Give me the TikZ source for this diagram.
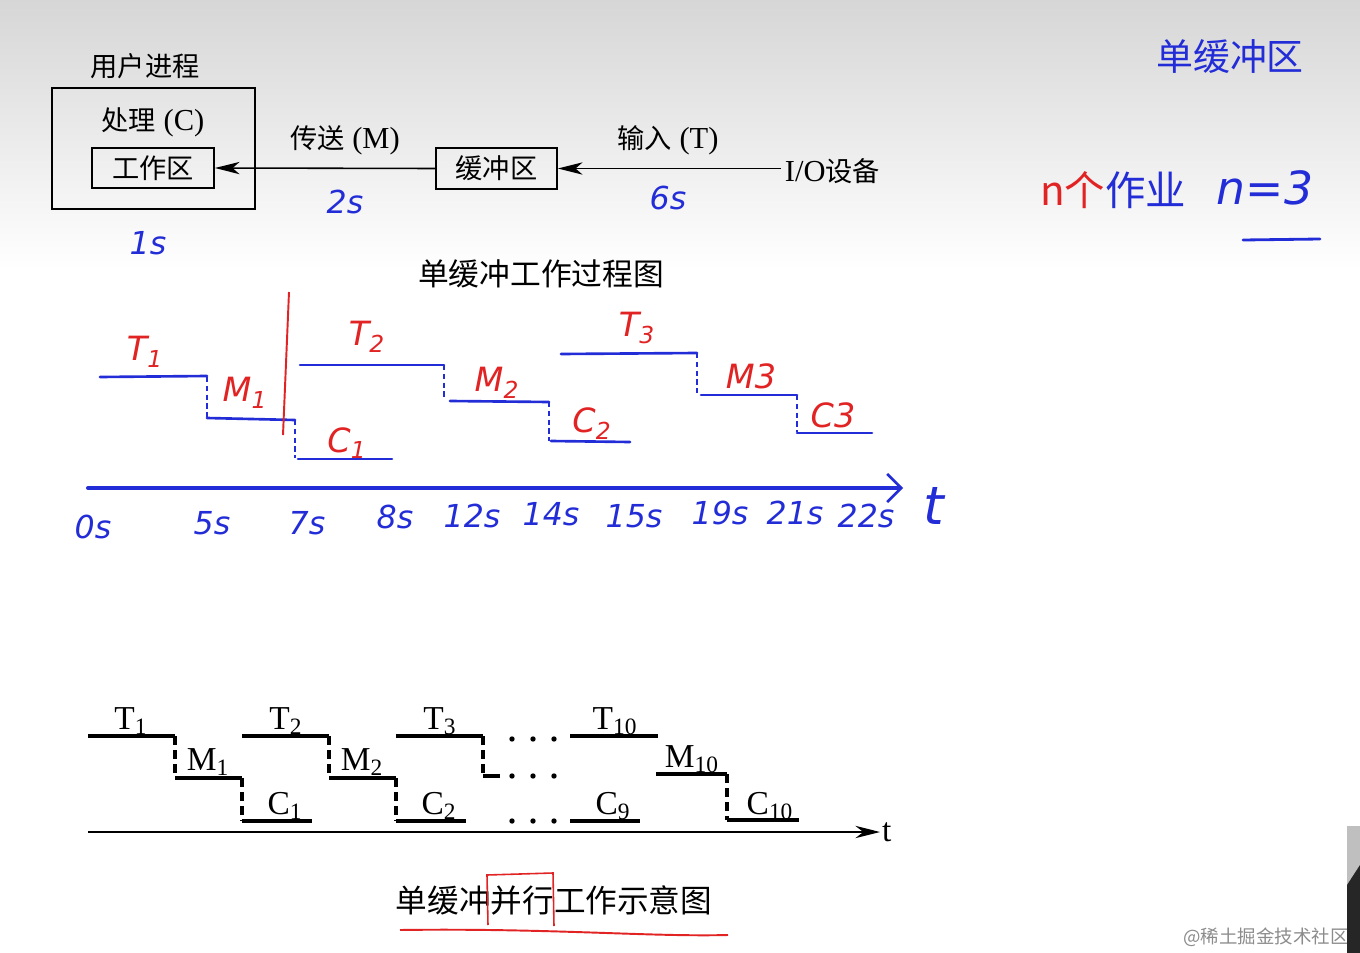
\documentclass[tikz,border=0pt]{standalone}
\usepackage{fontspec}
\setmainfont{Liberation Serif}[Scale=1.12]
\newfontfamily\cjk{Noto Sans CJK SC}
\newfontfamily\handfont{DejaVu Sans}
\usetikzlibrary{positioning,arrows.meta}
\definecolor{penblue}{RGB}{35,45,215}
\definecolor{penred}{RGB}{225,35,35}
\newcommand{\LEVELT}{736}
\newcommand{\LEVELM}{778}
\newcommand{\LEVELC}{821}
\newcommand{\STAGE}{154}
\newcommand{\AXISY}{832}
\newcommand{\PENAXISY}{488}

\begin{document}
\begin{tikzpicture}[x=0.02cm,y=-0.02cm,
  box/.style={draw, line width=1.1pt, inner sep=0pt},
  printed/.style={font=\fontsize{15.5}{18}\selectfont},
  pen/.style={penblue, line width=1.5pt, line cap=round},
  pendash/.style={penblue, line width=1pt, dash pattern=on 3pt off 2pt},
  ink/.style={black, line width=1.8pt},
  inkdash/.style={black, line width=1.9pt, dash pattern=on 5pt off 3pt},
  redlbl/.style={penred, font=\handfont\itshape\fontsize{19}{22}\selectfont},
  bluelbl/.style={penblue, font=\handfont\itshape\fontsize{18}{22}\selectfont},
  sublbl/.style={font=\fontsize{17}{20}\selectfont}]
\tikzstyle{every node}=[inner sep=1pt]
\useasboundingbox (0,0) rectangle (1360,953);
\fill[white] (0,0) rectangle (1360,953);
\shade[top color=black!16, bottom color=white] (0,0) rectangle (1360,270);

% Buffer structure
	\node[box, minimum width=4.06cm, minimum height=2.42cm] (proc) at (153.5,148.5) {};
	\node[printed] (procname) at (145,66) {\cjk 用户进程};
	\node[printed] (proclbl) at (153,122) {{\cjk 处理} (C)};
	\node[box, printed, minimum width=2.44cm, minimum height=0.8cm] (work) at (153,168) {\cjk 工作区};
	\node[box, printed, minimum width=2.42cm, minimum height=0.82cm] (buf) at (496.5,168.5) {\cjk 缓冲区};
	\node[printed, anchor=west, inner sep=2pt] (io) at (781,171) {I/O{\cjk 设备}};
	\node[printed] (move) at (345,140) {{\cjk 传送} (M)};
	\node[printed] (input) at (668,140) {{\cjk 输入} (T)};

	\draw[line width=0.9pt, -{Stealth[length=14pt,width=7pt,inset=4pt]}] (buf.west) -- (work.east);
	\draw[line width=0.9pt, -{Stealth[length=14pt,width=7pt,inset=4pt]}] (io.west |- buf.east) -- (buf.east);

	\node[bluelbl] (tmove) at (345,202) {2s};
	\node[bluelbl] (tinput) at (668,198) {6s};
	\node[bluelbl] (tproc) at (148,243) {1s};

	\node[font=\cjk\fontsize{17.5}{20}\selectfont] (cap1) at (541,274) {单缓冲工作过程图};

% Handwritten steps
	\draw[pen] (100,377) -- (207,376);
	\draw[pendash] (207,377) -- (207,418);
	\draw[pen] (207,418) -- (295,420);
	\draw[pendash] (295,420) -- (295,458);
	\draw[pen] (298,459) -- (392,459);

	\draw[pen] (300,365) -- (444,365);
	\draw[pendash] (444,365) -- (444,400);
	\draw[pen] (450,401) -- (549,402);
	\draw[pendash] (549,402) -- (549,441);
	\draw[pen] (551,441) -- (630,442);

	\draw[pen] (561,354) -- (697,353);
	\draw[pendash] (697,353) -- (697,394);
	\draw[pen] (701,395) -- (797,395);
	\draw[pendash] (797,395) -- (797,432);
	\draw[pen] (797,433) -- (872,433);

	\draw[penred, line width=1.1pt] (289,292) -- (283,435);

	\node[redlbl] (t1) at (145,352) {T\textsubscript{1}};
	\node[redlbl] (m1) at (245,393) {M\textsubscript{1}};
	\node[redlbl] (c1) at (347,443) {C\textsubscript{1}};
	\node[redlbl] (t2) at (367,337) {T\textsubscript{2}};
	\node[redlbl] (m2) at (497,383) {M\textsubscript{2}};
	\node[redlbl] (c2) at (592,424) {C\textsubscript{2}};
	\node[redlbl] (t3) at (637,328) {T\textsubscript{3}};
	\node[redlbl] (m3) at (751,376) {M3};
	\node[redlbl] (c3) at (833,415) {C3};

% Handwritten axis
	\coordinate (pa0) at (88,\PENAXISY);
	\coordinate (pa1) at (903,\PENAXISY);
	\draw[pen, line width=2.3pt, -{Straight Barb[length=8pt,width=16pt,line width=1.5pt]}] (pa0) -- (pa1);
	\foreach \lab/\x/\y in {0s/93/527, 5s/212/523, 7s/307/523, 8s/395/517, 12s/472/516, 14s/551/514, 15s/634/516, 19s/720/513, 21s/795/513, 22s/866/516}
		\node[bluelbl] (tick\lab) at (\x,\y) {\lab};
	\node[penblue, font=\handfont\itshape\fontsize{30}{32}\selectfont] (pt) at (934,506) {t};

% Parallel stages
	\foreach \o in {0,1}{
		\draw[ink] ({88+\o*\STAGE},\LEVELT) -- ({175+\o*\STAGE},\LEVELT);
		\draw[inkdash] ({175+\o*\STAGE},\LEVELT) -- ({175+\o*\STAGE},\LEVELM);
		\draw[ink] ({175+\o*\STAGE},\LEVELM) -- ({242+\o*\STAGE},\LEVELM);
		\draw[inkdash] ({242+\o*\STAGE},\LEVELM) -- ({242+\o*\STAGE},\LEVELC);
		\draw[ink] ({242+\o*\STAGE},\LEVELC) -- ({312+\o*\STAGE},\LEVELC);
	}
	\draw[ink] (396,\LEVELT) -- (483,\LEVELT);
	\draw[inkdash] (483,\LEVELT) -- (483,776);
	\draw[ink] (483,776) -- (500,776);
	\foreach \y in {739,776,821}
		\foreach \x in {512,533,554}
			\fill (\x,\y) circle [radius=2.7];
	\draw[ink] (570,\LEVELT) -- (658,\LEVELT);
	\draw[ink] (570,\LEVELC) -- (640,\LEVELC);
	\draw[ink] (656,774) -- (727,774);
	\draw[inkdash] (727,774) -- (727,820);
	\draw[ink] (727,820) -- (799,820);

	\node[sublbl] (bt1) at (131,721) {T\textsubscript{1}};
	\node[sublbl] (bm1) at (208,762) {M\textsubscript{1}};
	\node[sublbl] (bc1) at (285,806) {C\textsubscript{1}};
	\node[sublbl] (bt2) at (286,721) {T\textsubscript{2}};
	\node[sublbl] (bm2) at (362,762) {M\textsubscript{2}};
	\node[sublbl] (bc2) at (439,806) {C\textsubscript{2}};
	\node[sublbl] (bt3) at (440,721) {T\textsubscript{3}};
	\node[sublbl] (bt10) at (615,721) {T\textsubscript{10}};
	\node[sublbl] (bm10) at (692,759) {M\textsubscript{10}};
	\node[sublbl] (bc9) at (613,806) {C\textsubscript{9}};
	\node[sublbl] (bc10) at (770,806) {C\textsubscript{10}};

	\coordinate (ax0) at (88,\AXISY);
	\node[sublbl, anchor=west] (bt) at (880,\AXISY) {t};
	\draw[line width=1.3pt, -{Stealth[length=14pt,width=7pt]}] (ax0) -- (bt.west);

	\node[font=\cjk\fontsize{18}{20}\selectfont] (cap2) at (554,900) {单缓冲并行工作示意图};
	\draw[penred, line width=0.9pt] (488,925) -- (487,875) -- (553,873) -- (554,926);
	\draw[penred, line width=1.1pt] (400,930) .. controls (550,928) and (650,937) .. (728,935);

% Notes on the right
	\node[penblue, font=\cjk\fontsize{21}{24}\selectfont] (note1) at (1230,57) {单缓冲区};
	\node[font=\cjk\fontsize{23}{26}\selectfont, anchor=west] (note2) at (1038,190) {\textcolor{penred}{n个}\textcolor{penblue}{作业}};
	\node[penblue, font=\handfont\itshape\fontsize{26}{30}\selectfont] (note3) at (1265,188) {n=3};
	\draw[pen, line width=1.6pt] (1243,240) -- (1320,239);

% Watermark
	\node[black!45, font=\cjk\fontsize{10.5}{13}\selectfont] (mark) at (1266,937) {@稀土掘金技术社区};
	\fill[black!25] (1347,826) rectangle (1360,953);
	\fill[black!85] (1347,885) -- (1360,865) -- (1360,953) -- (1347,953) -- cycle;
\end{tikzpicture}
\end{document}
